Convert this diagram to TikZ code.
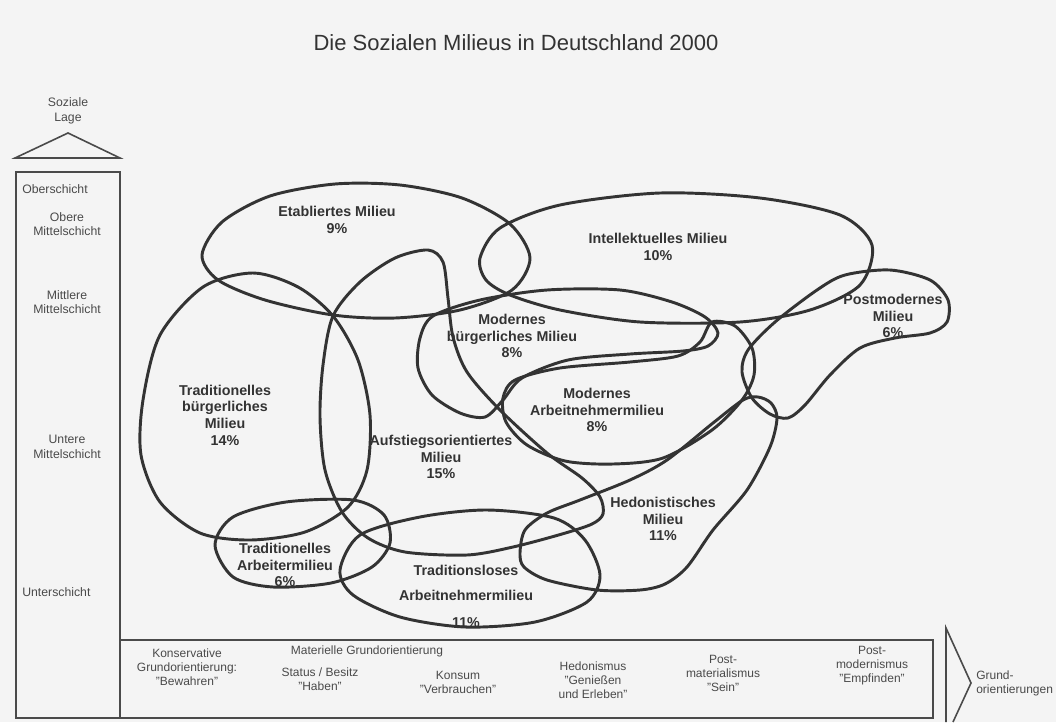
\documentclass[tikz,border=0pt]{standalone}
\usepackage{fontspec}
\setmainfont{Liberation Sans}
\usetikzlibrary{positioning}
\definecolor{scanbg}{HTML}{F4F4F4}
\definecolor{ink}{HTML}{333333}
\definecolor{framegray}{HTML}{4A4A4A}
\newcommand{\qt}[1]{\char34 #1\char34}

\tikzset{
  blob/.style={draw=ink, line width=2.2pt, line join=round},
  milieu/.style={text=ink, font=\fontsize{10.7}{12.5}\selectfont\bfseries, align=center, inner sep=0pt},
  axislabel/.style={text=framegray, font=\fontsize{9.2}{11}\selectfont, align=center, inner sep=0pt},
  orient/.style={text=framegray, font=\fontsize{9}{10.5}\selectfont, align=center, inner sep=0pt},
  axisline/.style={draw=framegray, line width=1.2pt},
}

\begin{document}
\begin{tikzpicture}[x=0.75pt, y=-0.75pt]
\fill[scanbg] (0,0) rectangle (1056,722);
\useasboundingbox (0,0) rectangle (1056,722);

\node[text=ink, font=\fontsize{16.5}{18}\selectfont] (title) at (516,43) {Die Sozialen Milieus in Deutschland 2000};

% Soziale Lage
\node[axislabel] (soziale) at (68,111) {Soziale\\Lage};
\draw[axisline] (15,158) -- (68,133) -- (120,158) -- cycle;
\draw[axisline] (16,172) rectangle (120,718);
\node[axislabel, anchor=west] (ober) at (22,189) {Oberschicht};
\node[axislabel] (obmit) at (67,224) {Obere\\Mittelschicht};
\node[axislabel] (mitmit) at (67,302) {Mittlere\\Mittelschicht};
\node[axislabel] (untmit) at (67,447) {Untere\\Mittelschicht};
\node[axislabel, anchor=west] (unter) at (22,592) {Unterschicht};

% Grundorientierungen
\draw[axisline] (120,640) rectangle (933,718);
\draw[axisline] (946,722) -- (946,628) -- (971,683) -- (953,722);
\node[orient] (konserv) at (187,667) {Konservative\\Grundorientierung:\\\qt{Bewahren}};
\node[orient] (materiell) at (367,651) {Materielle Grundorientierung};
\node[orient] (status) at (320,679) {Status / Besitz\\\qt{Haben}};
\node[orient] (konsum) at (458,682) {Konsum\\\qt{Verbrauchen}};
\node[orient] (hedon) at (593,680) {Hedonismus\\\qt{Genießen\\und Erleben}};
\node[orient] (postmat) at (723,673) {Post-\\materialismus\\\qt{Sein}};
\node[orient] (postmod) at (872,666) {Post-\\modernismus\\\qt{Empfinden}};
\node[orient, align=left, anchor=west] (grund) at (976,683) {Grund-\\orientierungen};

% Milieus
\draw[blob] plot[smooth cycle] coordinates {(202,255) (222,222) (270,196) (335,184) (400,185) (462,198) (510,224) (530,258) (512,290) (460,310) (395,318) (333,315) (265,300) (218,280)};
\draw[blob] plot[smooth cycle] coordinates {(480,258) (500,228) (560,205) (660,193) (760,198) (840,215) (872,245) (860,285) (810,310) (740,322) (640,322) (560,310) (510,295) (486,280)};
\draw[blob] plot[smooth cycle] coordinates {(817,290) (845,275) (890,270) (930,280) (948,300) (947,322) (930,333) (895,338) (860,348) (830,375) (805,405) (788,418) (770,414) (752,398) (742,372) (748,350) (775,322)};
\draw[blob] plot[smooth cycle] coordinates {(433,316) (480,300) (547,290) (620,290) (672,302) (705,317) (718,333) (708,346) (683,351) (630,354) (568,360) (522,378) (503,400) (485,417) (460,413) (432,395) (418,368) (420,338)};
\draw[blob] plot[smooth cycle] coordinates {(503,398) (515,380) (560,368) (630,362) (678,356) (700,342) (712,322) (735,326) (752,348) (754,375) (742,400) (712,430) (663,458) (613,464) (565,461) (527,445) (506,422)};
\draw[blob] plot[smooth cycle] coordinates {(253,273) (298,287) (333,316) (358,360) (370,415) (367,470) (348,507) (305,532) (250,540) (200,533) (160,502) (141,455) (143,400) (160,335) (203,287)};
\draw[blob] plot[smooth cycle] coordinates {(333,316) (360,282) (395,258) (428,250) (443,262) (448,298) (453,337) (467,372) (500,410) (547,453) (582,478) (600,497) (603,514) (592,524) (562,534) (513,547) (467,555) (405,552) (368,538) (342,512) (325,470) (320,417) (323,365)};
\draw[blob] plot[smooth cycle] coordinates {(520,553) (525,530) (547,513) (580,500) (630,480) (667,460) (713,423) (743,400) (758,397) (771,403) (777,418) (770,447) (747,490) (713,530) (687,567) (665,584) (640,590) (597,590) (547,580) (524,567)};
\draw[blob] plot[smooth cycle] coordinates {(215,545) (233,517) (286,502) (353,500) (384,515) (390,543) (372,567) (331,583) (273,587) (233,577)};
\draw[blob] plot[smooth cycle] coordinates {(340,570) (360,535) (420,517) (487,510) (554,518) (585,540) (600,575) (587,602) (535,622) (465,627) (400,617) (353,595)};

\node[milieu] (etab) at (337,220) {Etabliertes Milieu\\9\%};
\node[milieu] (intel) at (658,247) {Intellektuelles Milieu\\10\%};
\node[milieu] (postm) at (893,316) {Postmodernes\\Milieu\\6\%};
\node[milieu] (modbuerg) at (512,336) {Modernes\\bürgerliches Milieu\\8\%};
\node[milieu] (modarb) at (597,410) {Modernes\\Arbeitnehmermilieu\\8\%};
\node[milieu] (tradbuerg) at (225,415) {Traditionelles\\bürgerliches\\Milieu\\14\%};
\node[milieu] (aufst) at (441,457) {Aufstiegsorientiertes\\Milieu\\15\%};
\node[milieu] (hedo) at (663,519) {Hedonistisches\\Milieu\\11\%};
\node[milieu] (tradarb) at (285,565) {Traditionelles\\Arbeitermilieu\\6\%};
\node[milieu] (tradlos) at (466,583) {Traditionsloses\\[6pt]Arbeitnehmermilieu};
\node[milieu, below=12pt of tradlos.south, anchor=north] (tradlosp) {11\%};
\end{tikzpicture}
\end{document}
